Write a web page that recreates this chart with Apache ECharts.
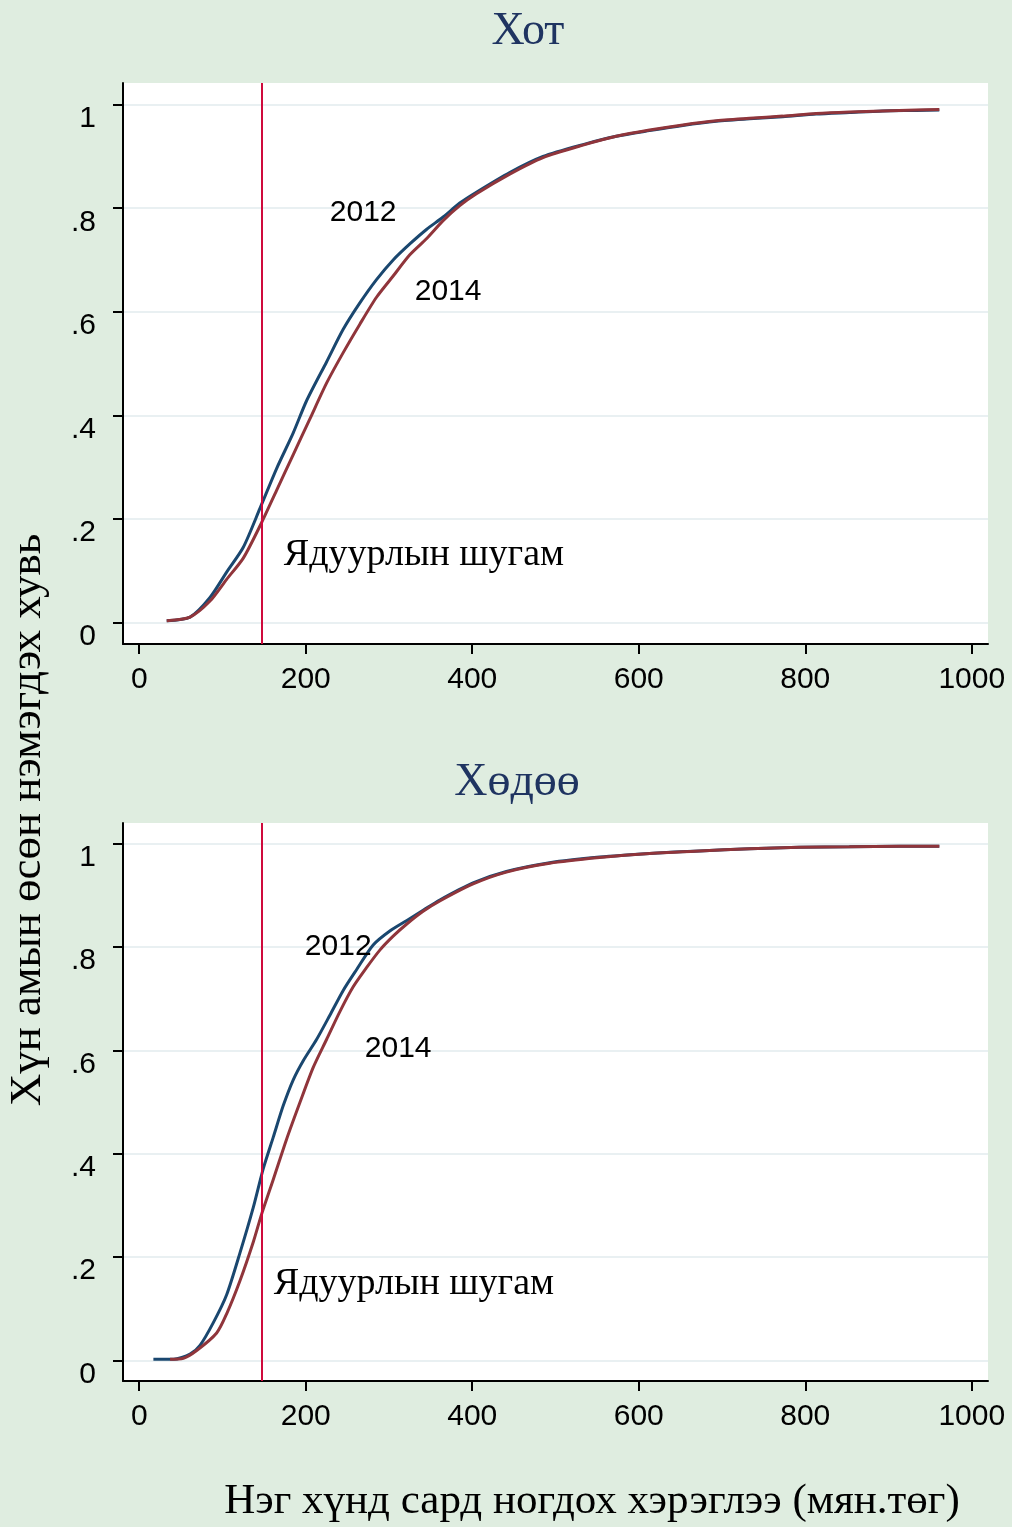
<!DOCTYPE html>
<html>
<head>
<meta charset="utf-8">
<script src="https://cdn.jsdelivr.net/npm/echarts@6/dist/echarts.min.js"></script>
<style>
  body { margin: 0; background: #dfede0; }
  #chart { width: 1012px; height: 1527px; }
</style>
</head>
<body>
<div id="chart"></div>
<script>
// Хот (urban) - cumulative share of population by monthly consumption per person
var urbanX2012 = [33, 61, 85, 105, 125, 145, 165, 185, 201, 225, 245, 265, 285, 305, 325, 345, 365, 385, 405, 445, 485, 533, 573, 613, 653, 693, 733, 773, 813, 853, 893, 933, 961];
var urbanY2012 = [0.003, 0.01, 0.048, 0.097, 0.145, 0.22, 0.297, 0.366, 0.428, 0.503, 0.566, 0.617, 0.662, 0.70, 0.731, 0.759, 0.783, 0.81, 0.831, 0.869, 0.9, 0.923, 0.939, 0.95, 0.96, 0.968, 0.973, 0.977, 0.982, 0.985, 0.988, 0.989, 0.99];
var urbanX2014 = [33, 61, 85, 105, 125, 145, 165, 185, 205, 225, 245, 265, 285, 305, 325, 345, 365, 385, 405, 445, 485, 533, 573, 613, 653, 693, 733, 773, 813, 853, 893, 933, 961];
var urbanY2014 = [0.003, 0.01, 0.041, 0.083, 0.124, 0.186, 0.255, 0.324, 0.393, 0.462, 0.521, 0.576, 0.628, 0.669, 0.71, 0.741, 0.776, 0.805, 0.828, 0.866, 0.898, 0.922, 0.939, 0.951, 0.961, 0.969, 0.974, 0.978, 0.983, 0.986, 0.988, 0.99, 0.991];

// Хөдөө (rural)
var ruralX2012 = [17, 41, 61, 73, 89, 105, 121, 137, 149, 161, 173, 185, 197, 213, 229, 245, 261, 281, 301, 321, 341, 361, 401, 441, 493, 553, 613, 673, 733, 793, 853, 913, 961];
var ruralY2012 = [0.002, 0.002, 0.012, 0.029, 0.073, 0.127, 0.208, 0.296, 0.371, 0.432, 0.493, 0.543, 0.58, 0.621, 0.668, 0.716, 0.756, 0.804, 0.831, 0.851, 0.871, 0.891, 0.924, 0.946, 0.963, 0.974, 0.981, 0.986, 0.99, 0.993, 0.994, 0.995, 0.995];
var ruralX2014 = [37, 53, 69, 93, 105, 121, 137, 147, 161, 177, 193, 209, 225, 241, 257, 273, 289, 305, 321, 341, 361, 401, 441, 493, 553, 613, 673, 733, 793, 853, 913, 961];
var ruralY2014 = [0.002, 0.004, 0.019, 0.053, 0.09, 0.154, 0.229, 0.283, 0.35, 0.428, 0.499, 0.567, 0.621, 0.675, 0.723, 0.76, 0.794, 0.821, 0.844, 0.869, 0.889, 0.922, 0.945, 0.962, 0.973, 0.981, 0.986, 0.99, 0.993, 0.994, 0.995, 0.995];

var povertyLine = 146.7;
var xTicks = [0, 200, 400, 600, 800, 1000];
var yTicks = [0, 0.2, 0.4, 0.6, 0.8, 1];

var BLUE = "#1a476f";
var RED = "#90353b";
var LINE_RED = "#cf0a3c";
var SERIF = "'Liberation Serif', 'Times New Roman', serif";
var SANS = "'Liberation Sans', Arial, sans-serif";

function pairs(xs, ys) {
  return xs.map(function (x, i) { return [x, ys[i]]; });
}

function xAxisCfg(idx) {
  return {
    type: "value",
    gridIndex: idx,
    min: -19.5,
    max: 1019.5,
    axisLine: { onZero: false, lineStyle: { color: "#000", width: 2 } },
    axisTick: { customValues: xTicks, length: 10, lineStyle: { color: "#000", width: 2 } },
    axisLabel: {
      customValues: xTicks,
      margin: 21,
      color: "#000",
      fontSize: 30,
      fontFamily: SANS,
      formatter: function (v) { return String(v); },
    },
    splitLine: { show: false },
  };
}

function yAxisCfg(idx, min, max) {
  return {
    type: "value",
    gridIndex: idx,
    min: min,
    max: max,
    axisLine: { show: true, onZero: false, lineStyle: { color: "#000", width: 2 } },
    axisTick: { customValues: yTicks, length: 10, lineStyle: { color: "#000", width: 2 } },
    axisLabel: {
      customValues: yTicks,
      margin: 27,
      formatter: function (v) {
        var t = v === 0 ? "0" : v === 1 ? "1" : v.toFixed(1).replace("0.", ".");
        return "{a|" + t + "}";
      },
      rich: {
        a: { color: "#000", fontSize: 30, fontFamily: SANS, padding: [28, 0, 0, 0] },
      },
    },
    splitLine: { show: true, lineStyle: { color: "#e9f0f2", width: 2 } },
  };
}

function curve(name, idx, data, color, withLine) {
  var s = {
    name: name,
    type: "line",
    xAxisIndex: idx,
    yAxisIndex: idx,
    data: data,
    showSymbol: false,
    symbol: "none",
    smooth: 0.25,
    lineStyle: { color: color, width: 3 },
    itemStyle: { color: color },
    silent: true,
    z: 3,
  };
  if (withLine) {
    s.markLine = {
      silent: true,
      symbol: ["none", "none"],
      label: { show: false },
      lineStyle: { color: LINE_RED, width: 2, type: "solid" },
      data: [{ xAxis: povertyLine }],
    };
  }
  return s;
}

function notes(idx, items) {
  return {
    type: "scatter",
    xAxisIndex: idx,
    yAxisIndex: idx,
    symbolSize: 0,
    itemStyle: { color: "rgba(0,0,0,0)", opacity: 1 },
    silent: true,
    z: 5,
    data: items.map(function (it) {
      return {
        name: it[0],
        value: [it[1], it[2]],
        label: {
          show: true,
          position: "inside",
          formatter: "{b}",
          color: "#000",
          opacity: 1,
          textBorderWidth: 0,
          fontSize: it[3],
          fontFamily: it[4],
        },
      };
    }),
  };
}

var chart = echarts.init(document.getElementById("chart"));
var option = {
  backgroundColor: "#dfede0",
  animation: false,
  grid: [
    { left: 123, top: 83, width: 865, height: 561, show: true, backgroundColor: "#fff", borderWidth: 0 },
    { left: 123, top: 823, width: 865, height: 558, show: true, backgroundColor: "#fff", borderWidth: 0 },
  ],
  xAxis: [xAxisCfg(0), xAxisCfg(1)],
  yAxis: [yAxisCfg(0, -0.042, 1.042), yAxisCfg(1, -0.04, 1.04)],
  graphic: [
    { type: "text", x: 528, y: 32, style: { text: "Хот", fill: "#1f3461", font: "46px " + SERIF, align: "center", verticalAlign: "middle" } },
    { type: "text", x: 517, y: 783, style: { text: "Хөдөө", fill: "#1f3461", font: "46px " + SERIF, align: "center", verticalAlign: "middle" } },
    { type: "text", x: 28, y: 820, rotation: Math.PI / 2, style: { text: "Хүн амын өсөн нэмэгдэх хувь", fill: "#000", font: "45px " + SERIF, align: "center", verticalAlign: "middle" } },
    { type: "text", x: 592, y: 1502, style: { text: "Нэг хүнд сард ногдох хэрэглээ (мян.төг)", fill: "#000", font: "43px " + SERIF, align: "center", verticalAlign: "middle" } },
  ],
  series: [
    curve("2012", 0, pairs(urbanX2012, urbanY2012), BLUE, true),
    curve("2014", 0, pairs(urbanX2014, urbanY2014), RED, false),
    curve("2012", 1, pairs(ruralX2012, ruralY2012), BLUE, true),
    curve("2014", 1, pairs(ruralX2014, ruralY2014), RED, false),
    notes(0, [["2012", 269, 0.791, 30, SANS], ["2014", 371, 0.638, 30, SANS], ["Ядуурлын шугам", 342, 0.13, 38, SERIF]]),
    notes(1, [["2012", 239, 0.80, 30, SANS], ["2014", 311, 0.603, 30, SANS], ["Ядуурлын шугам", 330, 0.148, 38, SERIF]]),
  ],
};
chart.setOption(option);
</script>
</body>
</html>
